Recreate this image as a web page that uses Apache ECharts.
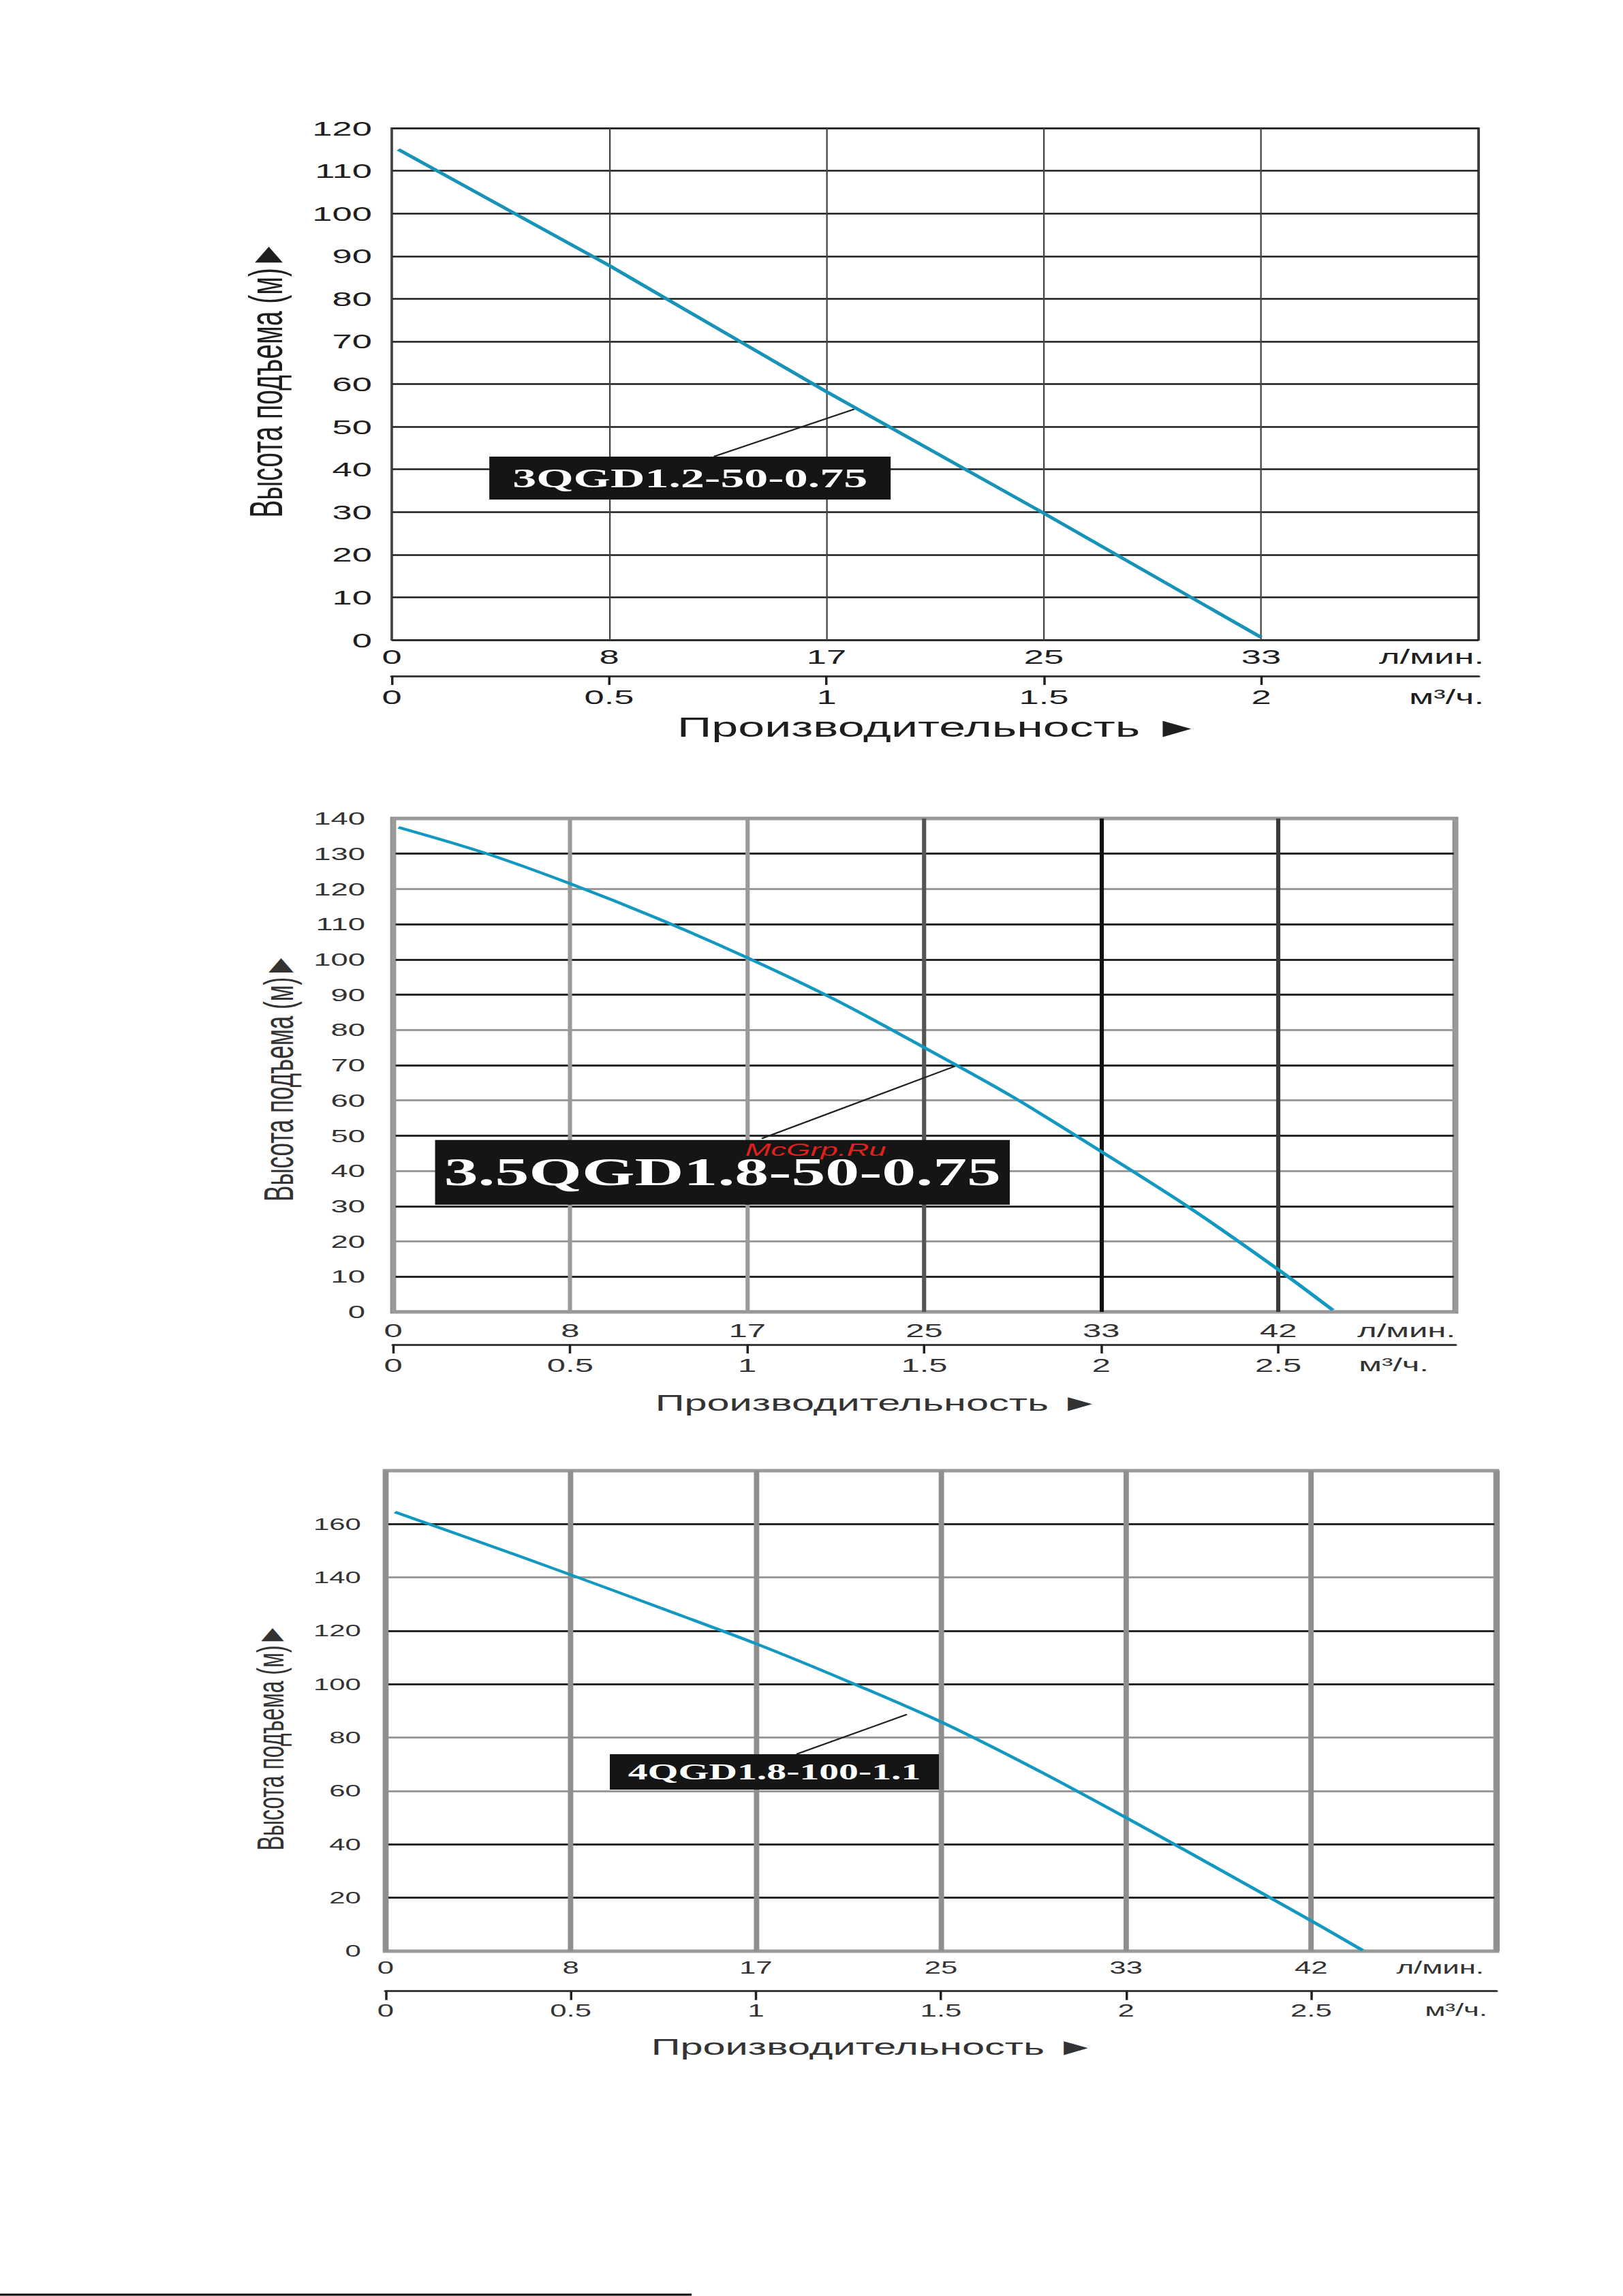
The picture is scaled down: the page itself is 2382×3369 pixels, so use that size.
<!DOCTYPE html>
<html><head><meta charset="utf-8">
<script src="https://cdn.jsdelivr.net/npm/echarts@6/dist/echarts.min.js"></script>
<style>
html,body{margin:0;padding:0;background:#fff;overflow:hidden;width:2382px;height:3369px}
#c{position:absolute;left:0;top:0;width:1361.14px;height:3369px;transform:scaleX(1.75);transform-origin:0 0;}
</style></head><body><div id="c"></div>
<script>
// ---------------- data ----------------
// chart 1 : 3QGD1.2-50-0.75
const m3hTicks1 = ['0','0.5','1','1.5','2'];
const lpmTicks1 = ['0','8','17','25','33'];
const yTicks1 = [0,10,20,30,40,50,60,70,80,90,100,110,120];
const flow1 = [0.015, 0.5, 1.0, 1.5, 2.0];
const head1 = [115, 87.8, 58.2, 29.7, 0.6];
const model1 = '3QGD1.2-50-0.75';

// chart 2 : 3.5QGD1.8-50-0.75
const m3hTicks2 = ['0','0.5','1','1.5','2','2.5'];
const lpmTicks2 = ['0','8','17','25','33','42'];
const yTicks2 = [0,10,20,30,40,50,60,70,80,90,100,110,120,130,140];
const flow2 = [0.015, 0.25, 0.5, 0.75, 1.0, 1.25, 1.5, 1.75, 2.0, 2.25, 2.5, 2.654];
const head2 = [137.5, 130.5, 121.5, 111.5, 100.5, 88.5, 75, 61, 45.5, 29.5, 12, 0.5];
const model2 = '3.5QGD1.8-50-0.75';

// chart 3 : 4QGD1.8-100-1.1
const m3hTicks3 = ['0','0.5','1','1.5','2','2.5'];
const lpmTicks3 = ['0','8','17','25','33','42'];
const yTicks3 = [0,20,40,60,80,100,120,140,160];
const flow3 = [0.025, 0.25, 0.5, 0.75, 1.0, 1.25, 1.5, 1.75, 2.0, 2.25, 2.5, 2.639];
const head3 = [164.5, 153.5, 141, 128.2, 115.2, 101, 85.9, 68.6, 50, 30.8, 11.4, 0.3];
const model3 = '4QGD1.8-100-1.1';

const xTitle = 'Производительность ►';
const yTitle = 'Высота подъема (м)►';
const unitL = 'л/мин.';
const unitM = 'м³/ч.';
const watermark = 'McGrp.Ru';

// ---------------- layout / style ----------------
const S = 1.75;
const D = '#262626', G = '#9a9a9a';
const charts = [
  { flow: flow1, head: head1, m3h: m3hTicks1, lpm: lpmTicks1, yTicks: yTicks1, model: model1,
    xMax: 2.5, yMax: 120, yStep: 10,
    l: 575, r: 2170, t: 188, b: 939, off: 53,
    border: '#2a2a2a', borderW: 2,
    hCol: '#1c1c1c', hW: 2.5, vCol: '#444', vW: 1.3,
    yFs: 30, xFs: 30, yMargin: 16.6, lpmMargin: 9, m3hMargin: 15, txt: '#1e1e1e',
    lineCol: '#1794b5', lineW: 4, smooth: false,
    box: { c: [0.686, 37.95], w: 336.6, h: 63, fs: 40 },
    lead: [[0.741, 43.0], [1.064, 54.1]],
    unitL: { x: 2178, y: 963 }, unitM: { x: 2178, y: 1022 },
    title: { x: 1378, y: 1067, fs: 40 }, ytitle: { x: 391, y: 557, fs: 39 } },
  { flow: flow2, head: head2, m3h: m3hTicks2, lpm: lpmTicks2, yTicks: yTicks2, model: model2,
    xMax: 3, yMax: 140, yStep: 10,
    l: 577, r: 2136, t: 1201, b: 1925, off: 48,
    border: '#8e8e8e', borderW: 5,
    hCol: [G, D, G, D, G, D, G, D, G, D, D, D, G, D, G], hW: 3,
    vCol: [G, G, G, '#555', '#111', '#3a3a3a', G], vW: 3.5,
    yFs: 26, xFs: 28, yMargin: 23.4, lpmMargin: 13, m3hMargin: 16, txt: '#333',
    lineCol: '#1399bf', lineW: 3.8, smooth: 0.3,
    box: { c: [0.930, 39.6], w: 482, h: 95, fs: 57 },
    lead: [[1.041, 49.2], [1.592, 69.9]],
    unitL: { x: 2136, y: 1952 }, unitM: { x: 2097, y: 2002 },
    title: { x: 1288, y: 2058, fs: 34 }, ytitle: { x: 409, y: 1581, fs: 35 } },
  { flow: flow3, head: head3, m3h: m3hTicks3, lpm: lpmTicks3, yTicks: yTicks3, model: model3,
    xMax: 3, yMax: 180, yStep: 20,
    l: 566, r: 2196, t: 2158, b: 2863, off: 58.7,
    border: '#999', borderW: 5,
    hCol: [G, D, D, G, G, D, D, G, D, G], hW: 3,
    vCol: '#8f8f8f', vW: 4.5,
    yFs: 24, xFs: 25, yMargin: 20.6, lpmMargin: 12.5, m3hMargin: 16, txt: '#333',
    lineCol: '#1399bf', lineW: 3.8, smooth: 0.3,
    box: { c: [1.05, 67.15], w: 276, h: 52, fs: 33 },
    lead: [[1.11, 73.8], [1.408, 88.7]],
    unitL: { x: 2178, y: 2888 }, unitM: { x: 2183, y: 2950 },
    title: { x: 1282, y: 3003, fs: 34 }, ytitle: { x: 397, y: 2549, fs: 32 } }
];

const FONT = "'Liberation Sans', Arial, sans-serif";
const option = { animation: false, backgroundColor: '#fff', grid: [], xAxis: [], yAxis: [], series: [], graphic: [] };

charts.forEach((c, i) => {
  option.grid.push({ left: c.l / S, top: c.t, width: (c.r - c.l) / S, height: c.b - c.t,
    show: true, borderColor: c.border, borderWidth: c.borderW, backgroundColor: 'transparent' });
  const tickIdx = v => Math.round(v / 0.5);
  option.xAxis.push({ type: 'value', gridIndex: i, min: 0, max: c.xMax, interval: 0.5, position: 'bottom',
    axisLine: { show: false }, axisTick: { show: false },
    axisLabel: { fontSize: c.xFs, fontFamily: FONT, color: c.txt, margin: c.lpmMargin,
      formatter: v => c.lpm[tickIdx(v)] !== undefined ? c.lpm[tickIdx(v)] : '' },
    splitLine: { show: true, lineStyle: { color: c.vCol, width: c.vW } } });
  option.xAxis.push({ type: 'value', gridIndex: i, min: 0, max: c.xMax, interval: 0.5, position: 'bottom', offset: c.off,
    axisLine: { show: true, onZero: false, lineStyle: { color: '#3a3a3a', width: 3 } },
    axisTick: { show: true, length: 13, lineStyle: { color: '#222', width: 2 },
      customValues: c.m3h.map(s => parseFloat(s)) },
    axisLabel: { fontSize: c.xFs, fontFamily: FONT, color: c.txt, margin: c.m3hMargin,
      formatter: v => c.m3h[tickIdx(v)] !== undefined ? c.m3h[tickIdx(v)] : '' },
    splitLine: { show: false } });
  option.yAxis.push({ type: 'value', gridIndex: i, min: 0, max: c.yMax, interval: c.yStep,
    axisLine: { show: false }, axisTick: { show: false },
    axisLabel: { fontSize: c.yFs, fontFamily: FONT, color: c.txt, margin: c.yMargin,
      formatter: v => c.yTicks.includes(v) ? String(v) : '' },
    splitLine: { show: true, lineStyle: { color: c.hCol, width: c.hW } } });
  option.series.push({ type: 'line', xAxisIndex: 2 * i, yAxisIndex: i, z: 5,
    data: c.flow.map((x, k) => [x, c.head[k]]), smooth: c.smooth, showSymbol: false,
    lineStyle: { color: c.lineCol, width: c.lineW },
    markLine: { silent: true, symbol: ['none', 'none'], label: { show: false },
      lineStyle: { color: '#222', width: 2, type: 'solid' },
      data: [[{ coord: c.lead[0] }, { coord: c.lead[1] }]] },
    markPoint: { silent: true, data: [{ name: c.model, coord: c.box.c, symbol: 'rect',
      symbolSize: [c.box.w, c.box.h], itemStyle: { color: '#141514' },
      label: { show: true, position: 'inside', formatter: c.model, color: '#fff',
        fontFamily: "'Liberation Serif', 'Times New Roman', serif", fontWeight: 'bold', fontSize: c.box.fs } }] } });
  const txt = (text, x, y, fs, align, extra) => Object.assign({ type: 'text', x: x / S, y: y, z: 10,
    style: { text: text, fontSize: fs, fontFamily: FONT, fill: c.txt, align: align, verticalAlign: 'middle' } }, extra || {});
  option.graphic.push(txt(unitL, c.unitL.x, c.unitL.y, c.xFs, 'right'));
  option.graphic.push(txt(unitM, c.unitM.x, c.unitM.y, c.xFs, 'right'));
  option.graphic.push(txt(xTitle, c.title.x, c.title.y, c.title.fs, 'center'));
  option.graphic.push(txt(yTitle, c.ytitle.x, c.ytitle.y, c.ytitle.fs, 'center', { rotation: Math.PI / 2 }));
});

option.graphic.push({ type: 'text', x: 1197 / S, y: 1687, z: 20,
  style: { text: watermark, fontSize: 26, fontStyle: 'italic', fontFamily: FONT, fill: '#e0201c', align: 'center', verticalAlign: 'middle' } });
option.graphic.push({ type: 'line', z: 10, shape: { x1: 0, y1: 3367, x2: 1015 / S, y2: 3367 }, style: { stroke: '#000', lineWidth: 3 } });

const chart = echarts.init(document.getElementById('c'), null, { renderer: 'svg' });
chart.setOption(option);
</script></body></html>
